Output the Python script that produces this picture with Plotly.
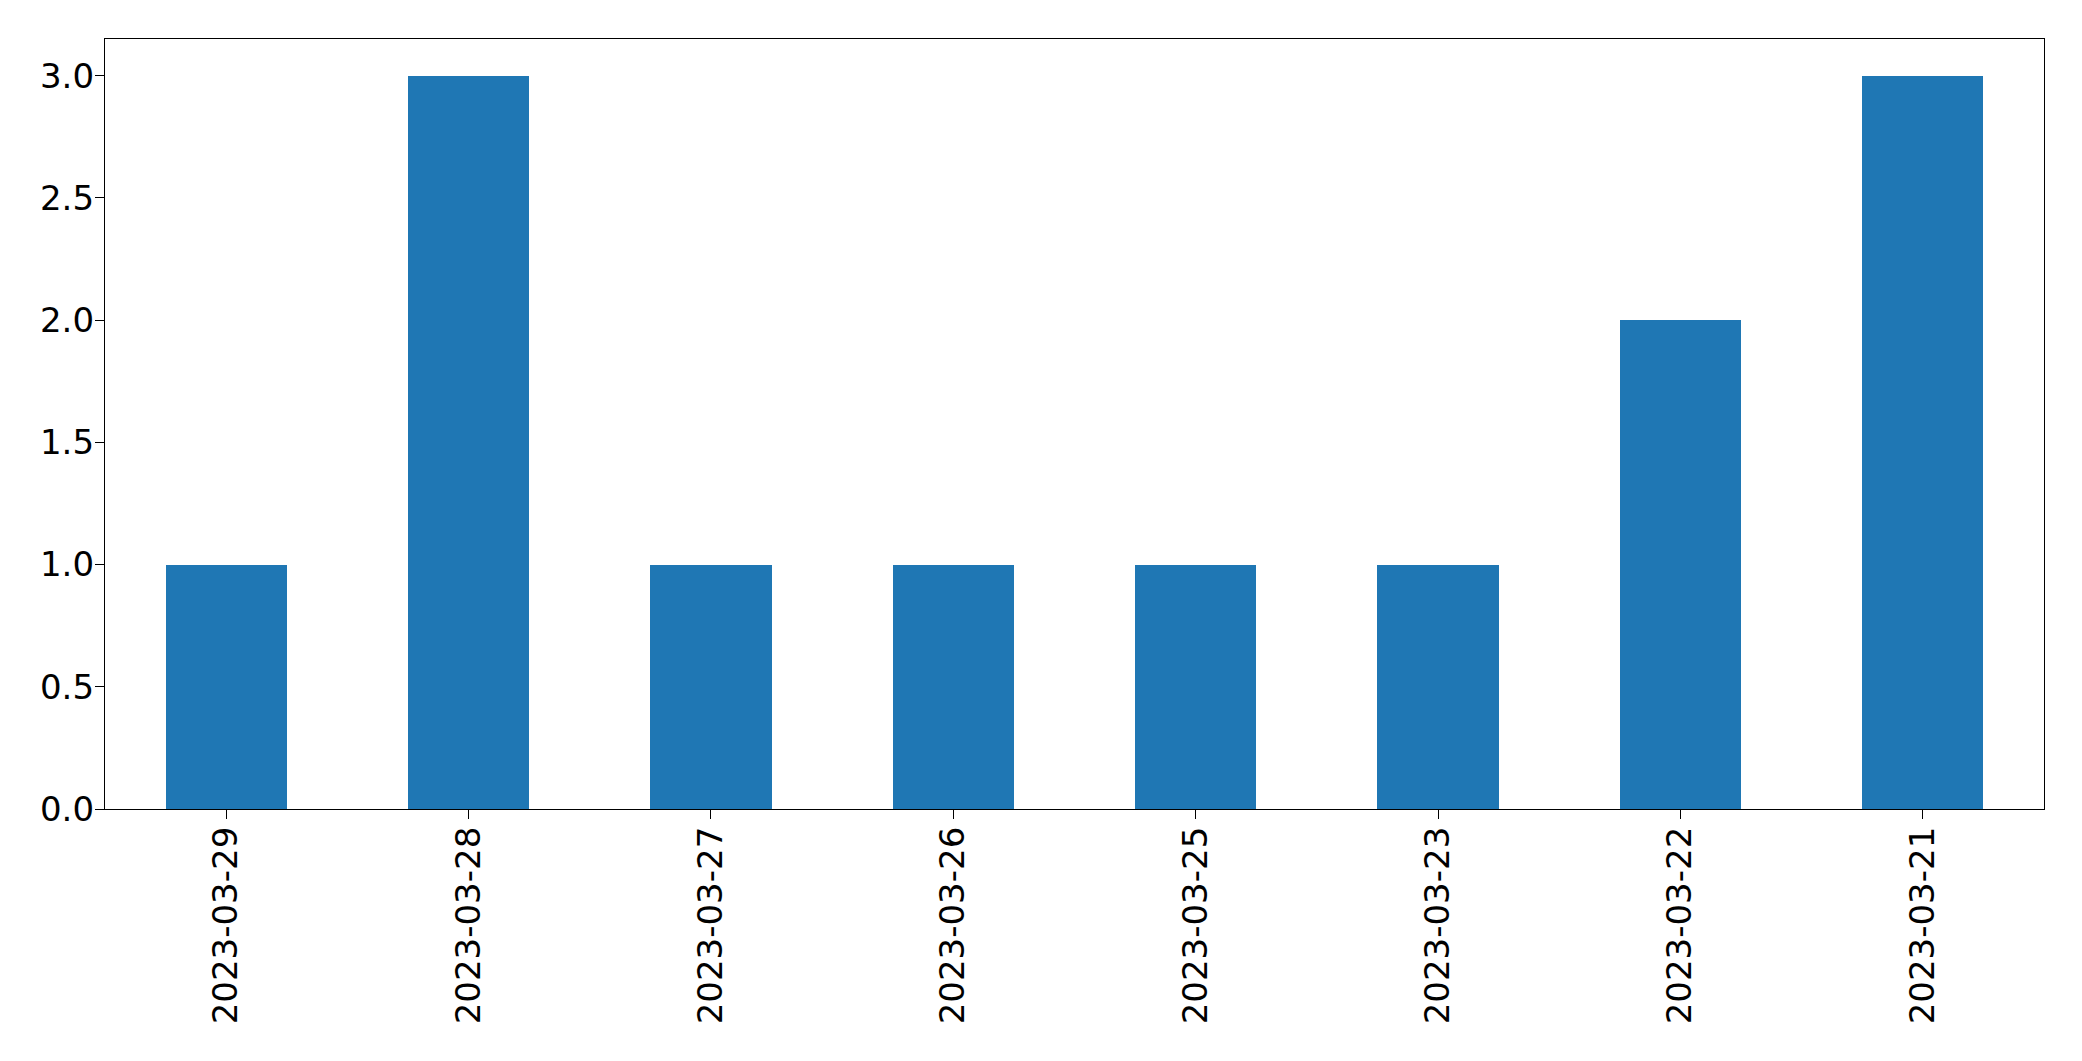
import plotly.graph_objects as go

categories = ["2023-03-29", "2023-03-28", "2023-03-27", "2023-03-26",
              "2023-03-25", "2023-03-23", "2023-03-22", "2023-03-21"]
values = [1, 3, 1, 1, 1, 1, 2, 3]
y_ticks = [0.0, 0.5, 1.0, 1.5, 2.0, 2.5, 3.0]
y_tick_labels = ["0.0", "0.5", "1.0", "1.5", "2.0", "2.5", "3.0"]

fig = go.Figure(go.Bar(x=list(range(len(categories))), y=values, width=0.5,
                       marker=dict(color="#1f77b4", line=dict(width=0))))

fig.update_layout(
    width=2082, height=1061,
    margin=dict(l=105, r=38, t=39, b=252, pad=0, autoexpand=False),
    paper_bgcolor="white", plot_bgcolor="white",
    font=dict(family="DejaVu Sans", size=34, color="black"),
    showlegend=False,
    bargap=0,
)
fig.update_xaxes(
    range=[-0.5, 7.5], tickmode="array", tickvals=list(range(len(categories))),
    ticktext=categories, tickangle=-90, ticks="outside", ticklen=9, tickwidth=1,
    tickcolor="black", showline=True, linecolor="black", linewidth=1.3, mirror=True,
    showgrid=False, zeroline=False, ticklabelstandoff=-6, automargin=False,
)
fig.update_yaxes(
    range=[0, 3.15], tickmode="array", tickvals=y_ticks, ticktext=y_tick_labels,
    ticks="outside", ticklen=9, tickwidth=1, tickcolor="black",
    showline=True, linecolor="black", linewidth=1.3, mirror=True,
    showgrid=False, zeroline=False, ticklabelstandoff=-6, automargin=False,
)

fig.write_html(
    "out.html",
    config={"displayModeBar": False},
    post_script="document.body.style.margin='0';document.body.style.overflow='hidden';",
)
